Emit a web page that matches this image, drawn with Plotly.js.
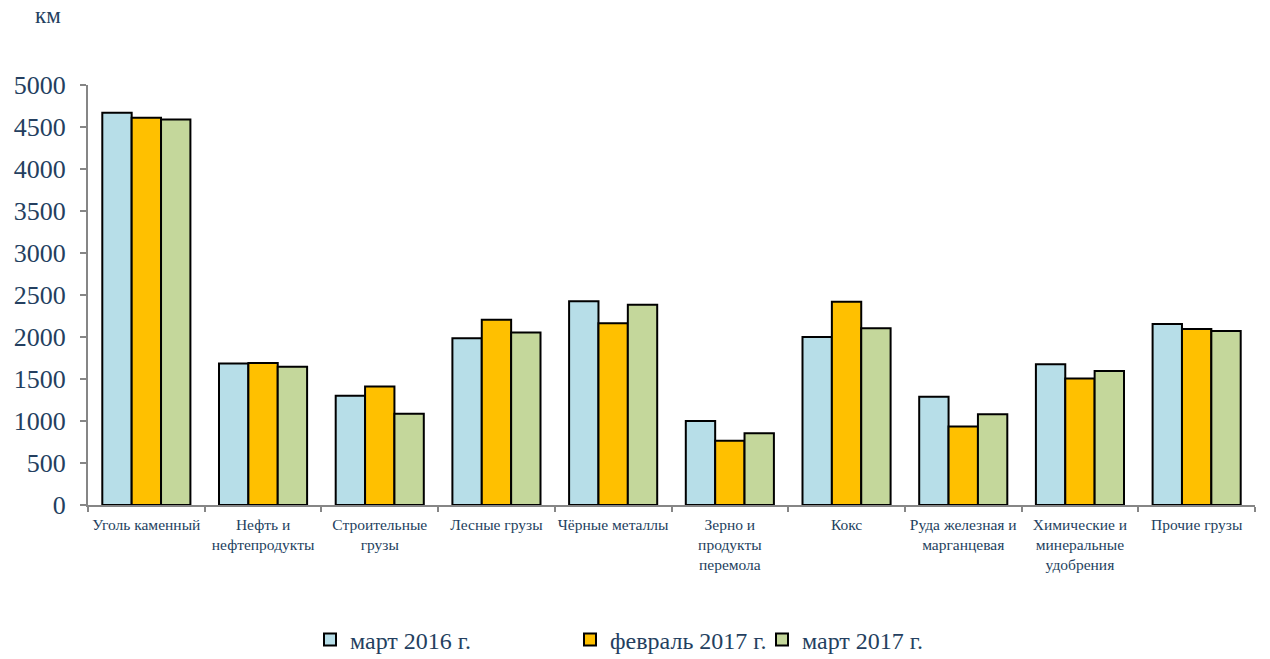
<!DOCTYPE html>
<html>
<head>
<meta charset="utf-8">
<script src="https://cdn.plot.ly/plotly-3.0.1.min.js"></script>
<style>html,body{margin:0;padding:0;background:#fff;}#chart{width:1270px;height:659px;}</style>
</head>
<body>
<div id="chart"></div>
<script>
const categories = [
  "Уголь каменный",
  "Нефть и<br>нефтепродукты",
  "Строительные<br>грузы",
  "Лесные грузы",
  "Чёрные металлы",
  "Зерно и<br>продукты<br>перемола",
  "Кокс",
  "Руда железная и<br>марганцевая",
  "Химические и<br>минеральные<br>удобрения",
  "Прочие грузы"
];
const seriesNames = ["март 2016 г.", "февраль 2017 г.", "март 2017 г."];
const mar2016 = [4670, 1685, 1300, 1985, 2425, 1000, 2000, 1290, 1675, 2155];
const feb2017 = [4610, 1690, 1410, 2205, 2165, 765, 2420, 935, 1505, 2095];
const mar2017 = [4590, 1645, 1085, 2055, 2385, 855, 2105, 1080, 1595, 2070];
const yTicks = [0, 500, 1000, 1500, 2000, 2500, 3000, 3500, 4000, 4500, 5000];
const unitLabel = "км";

const colors = ["#B7DEE8", "#FFC000", "#C4D79B"];
const values = [mar2016, feb2017, mar2017];
const legendIds = ["legend", "legend2", "legend3"];
const textColor = "#243F60";
const serif = "Liberation Serif, Times New Roman, serif";

const data = values.map((v, i) => ({
  type: "bar",
  name: seriesNames[i],
  x: categories,
  y: v,
  marker: {color: colors[i], line: {color: "#000", width: 2}},
  legend: legendIds[i],
  hoverinfo: "x+y+name"
}));

const legendBase = {
  orientation: "h", yref: "container", xref: "container",
  y: 1 - 640 / 659, yanchor: "middle", xanchor: "left",
  font: {family: serif, size: 24, color: textColor},
  bgcolor: "rgba(0,0,0,0)", itemwidth: 30
};

const layout = {
  width: 1270, height: 659,
  margin: {l: 88, r: 15, t: 85, b: 154},
  paper_bgcolor: "#fff", plot_bgcolor: "#fff",
  barmode: "group", bargap: 0.245, bargroupgap: 0,
  showlegend: true,
  legend: Object.assign({}, legendBase, {x: 310 / 1270}),
  legend2: Object.assign({}, legendBase, {x: 570 / 1270}),
  legend3: Object.assign({}, legendBase, {x: 762 / 1270}),
  xaxis: {
    type: "category",
    showline: true, linecolor: "#868686", linewidth: 2,
    ticks: "outside", tickson: "boundaries", ticklen: 5, tickcolor: "#868686", tickwidth: 2,
    tickfont: {family: serif, size: 15.5, color: textColor},
    ticklabelstandoff: 4,
    showgrid: false, zeroline: false, tickangle: 0, automargin: false
  },
  yaxis: {
    range: [0, 5000], tickvals: yTicks, ticktext: yTicks.map(String),
    showline: true, linecolor: "#868686", linewidth: 2,
    ticks: "outside", ticklen: 6, tickcolor: "#868686", tickwidth: 2,
    tickfont: {family: serif, size: 26, color: textColor},
    ticklabelstandoff: 9,
    showgrid: false, zeroline: false, automargin: false
  },
  annotations: [{
    text: unitLabel, xref: "paper", yref: "paper",
    x: (48 - 88) / 1167, y: 1 + (85 - 16) / 420,
    xanchor: "center", yanchor: "middle", showarrow: false,
    font: {family: serif, size: 23, color: textColor}
  }]
};

Plotly.newPlot("chart", data, layout, {displayModeBar: false});
</script>
</body>
</html>
